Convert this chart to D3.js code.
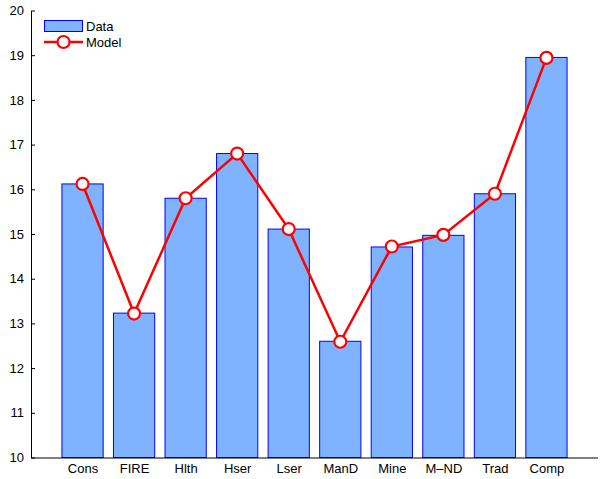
<!DOCTYPE html>
<html>
<head>
<meta charset="utf-8">
<script src="https://cdn.jsdelivr.net/npm/d3@7"></script>
<style>
body{margin:0;background:#fff;}
text{font-family:"Liberation Sans",Arial,sans-serif;}
</style>
</head>
<body>
<script>

var categories=["Cons","FIRE","Hlth","Hser","Lser","ManD","Mine","M\u2013ND","Trad","Comp"];
var dataValues=[16.12,13.23,15.80,16.80,15.11,12.60,14.71,14.97,15.90,18.95];
var modelValues=[16.12,13.22,15.80,16.80,15.11,12.59,14.72,14.98,15.90,18.94];
var yTicks=[10,11,12,13,14,15,16,17,18,19,20];

var width=607,height=479;
var margin={top:10.5,right:9,bottom:21.5,left:31};

var svg=d3.select("body").append("svg")
	.attr("width",width)
	.attr("height",height);

// x en unités "index", 0..11 comme matlab
var x=d3.scaleLinear()
	.domain([0,categories.length+1])
	.range([margin.left,width-margin.right]);

var y=d3.scaleLinear()
	.domain([10,20])
	.range([height-margin.bottom,margin.top]);

var barW=x(0.8)-x(0);

// barres
svg.append("g").selectAll("rect")
	.data(dataValues)
	.enter().append("rect")
	.attr("x",function(d,i){return x(i+1)-barW/2;})
	.attr("y",function(d){return y(d);})
	.attr("width",barW)
	.attr("height",function(d){return y(10)-y(d);})
	.style("fill","#80b3ff")
	.style("stroke","#0000ff")
	.style("stroke-width",1);

// axes
var yAxis=d3.axisLeft(y).tickValues(yTicks).tickSizeInner(-4).tickSizeOuter(0).tickPadding(7);
var gy=svg.append("g").attr("transform","translate("+margin.left+",0)").call(yAxis);
gy.selectAll("text").style("font-size","13px").attr("fill","#000");

var xAxis=d3.axisBottom(x)
	.tickValues(d3.range(1,categories.length+1))
	.tickFormat(function(d){return categories[d-1];})
	.tickSize(0).tickPadding(6);
var gx=svg.append("g").attr("transform","translate(0,"+y(10)+")").call(xAxis);
gx.selectAll("text").style("font-size","13px").attr("fill","#000");
gx.select(".domain").attr("d","M"+x(0)+",0.5H"+x(categories.length+1));

svg.selectAll(".domain").attr("stroke","#000");

// modèle
var line=d3.line()
	.x(function(d,i){return x(i+1);})
	.y(function(d){return y(d);});

svg.append("path")
	.datum(modelValues)
	.attr("d",line)
	.style("fill","none")
	.style("stroke","#ff0000")
	.style("stroke-width",2.5);

svg.append("g").selectAll("circle")
	.data(modelValues)
	.enter().append("circle")
	.attr("cx",function(d,i){return x(i+1);})
	.attr("cy",function(d){return y(d);})
	.attr("r",6)
	.style("fill","#fff")
	.style("stroke","#ff0000")
	.style("stroke-width",2.2);

// légende
var leg=svg.append("g").attr("class","legend");
leg.append("rect").attr("x",44.5).attr("y",20.5).attr("width",38).attr("height",11)
	.style("fill","#80b3ff").style("stroke","#0000ff");
leg.append("text").attr("x",86).attr("y",31).text("Data").style("font-size","13px");
leg.append("line").attr("x1",44).attr("x2",83).attr("y1",42).attr("y2",42)
	.style("stroke","#ff0000").style("stroke-width",2.5);
leg.append("circle").attr("cx",63.5).attr("cy",42).attr("r",6)
	.style("fill","#fff").style("stroke","#ff0000").style("stroke-width",2.2);
leg.append("text").attr("x",86).attr("y",47).text("Model").style("font-size","13px");

</script>
</body>
</html>
